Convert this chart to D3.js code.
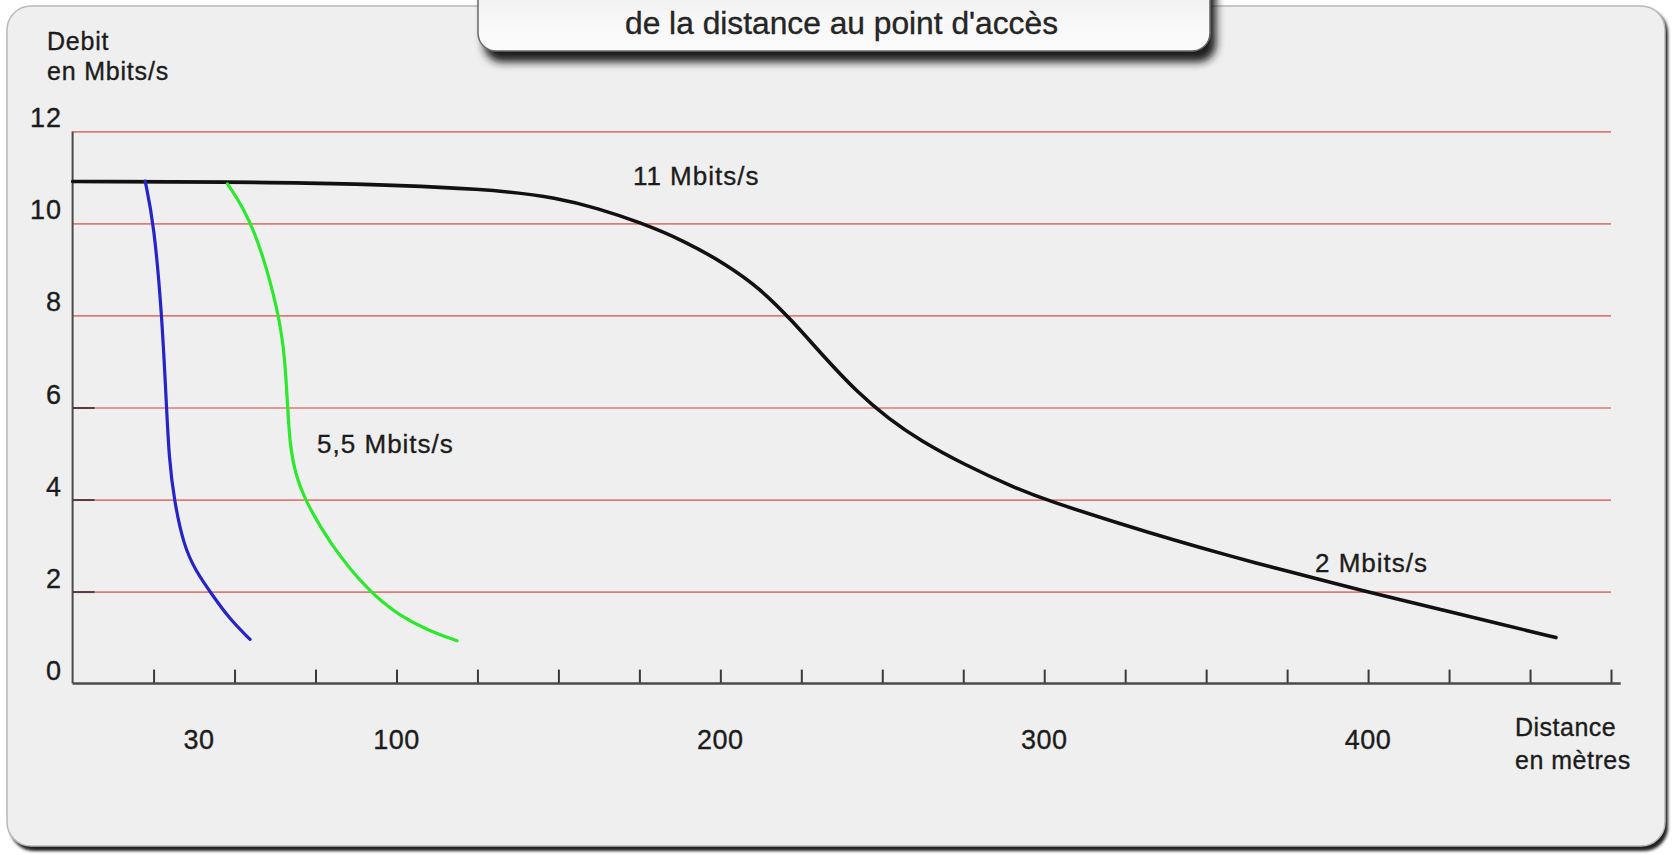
<!DOCTYPE html>
<html lang="fr">
<head>
    <meta charset="UTF-8">
    <title>Debit en fonction de la distance</title>
    <script src="https://d3js.org/d3.v7.min.js"></script>
    <style>
        body {
            margin: 0;
            background: #ffffff;
        }

        svg text {
            font-family: "Liberation Sans", Arial, Helvetica, sans-serif;
            fill: #1c1c1c;
            stroke: #1c1c1c;
            stroke-width: 0.35px;
        }

        .gridlines line {
            stroke: #e07c77;
            stroke-width: 1.7;
        }

        .gridlines .domain {
            stroke: none;
        }
    </style>
</head>
<body>
    <script>
        // data (distance in metres, debit in Mbits/s)
        const yTicks = [0, 2, 4, 6, 8, 10, 12];
        const xTickMarks = d3.range(25, 476, 25);
        const xLabels = ["30", "100", "200", "300", "400"];
        const xLabelAt = [39, 100, 200, 300, 400];

        const black11 = [
            [0, 10.91], [76, 10.9], [130, 10.75], [150, 10.55], [162, 10.33],
            [175, 10.03], [189, 9.62], [202, 9.1], [212, 8.6], [222, 7.9],
            [232, 7.1], [242, 6.35], [252, 5.75], [262, 5.27], [275, 4.77],
            [291, 4.25], [301, 3.98], [324, 3.46], [340, 3.12], [357, 2.78],
            [373, 2.48], [390, 2.17], [406, 1.89], [423, 1.6], [440, 1.31],
            [458, 1.0]
        ];
        const green55 = [
            [47.8, 10.86], [56, 10], [64, 8], [65.6, 7], [66.4, 6], [67.1, 5.2],
            [68.6, 4.6], [71.6, 4], [79.8, 3], [91.4, 2], [101, 1.47], [110, 1.15],
            [118.7, 0.93]
        ];
        const blue = [
            [22.4, 10.92], [25.1, 10], [27.6, 8], [29, 6], [29.8, 4.9], [31.3, 4],
            [34.3, 3], [38, 2.45], [42.9, 1.95], [48.5, 1.4], [54.8, 0.96]
        ];
        const curveLabels = [
            {text: "11 Mbits/s", x: 173, y: 10.83},
            {text: "5,5 Mbits/s", x: 75.5, y: 5.01},
            {text: "2 Mbits/s", x: 383.6, y: 2.43}
        ];

        const svgWidth = 1675;
        const svgHeight = 855;

        const svg = d3.select("body").append("svg")
            .attr("width", svgWidth)
            .attr("height", svgHeight);

        const defs = svg.append("defs");
        defs.append("filter").attr("id", "blur2")
            .attr("x", "-5%").attr("y", "-5%").attr("width", "110%").attr("height", "120%")
            .append("feGaussianBlur").attr("stdDeviation", 1.6);
        defs.append("filter").attr("id", "blur4")
            .attr("x", "-5%").attr("y", "-20%").attr("width", "110%").attr("height", "160%")
            .append("feGaussianBlur").attr("stdDeviation", 4);
        const grad = defs.append("linearGradient").attr("id", "titleFill")
            .attr("x1", 0).attr("y1", 0).attr("x2", 0).attr("y2", 1);
        grad.append("stop").attr("offset", "0%").attr("stop-color", "#e9e9e9");
        grad.append("stop").attr("offset", "60%").attr("stop-color", "#f7f7f7");
        grad.append("stop").attr("offset", "100%").attr("stop-color", "#fbfbfb");

        // panel with dark shadow on the bottom/right
        svg.append("rect")
            .attr("x", 10).attr("y", 9)
            .attr("width", 1658).attr("height", 842)
            .attr("rx", 24)
            .attr("fill", "#222")
            .attr("filter", "url(#blur2)");
        svg.append("rect")
            .attr("x", 7).attr("y", 6)
            .attr("width", 1658).attr("height", 840)
            .attr("rx", 24)
            .attr("fill", "#efefef")
            .attr("stroke", "#b9b9b9")
            .attr("stroke-width", 1.5);

        // title tab at the top
        svg.append("rect")
            .attr("x", 484).attr("y", -30)
            .attr("width", 732).attr("height", 92)
            .attr("rx", 18)
            .attr("fill", "#1e1e1e")
            .attr("filter", "url(#blur4)");
        svg.append("rect")
            .attr("x", 478).attr("y", -30)
            .attr("width", 732).attr("height", 81)
            .attr("rx", 18)
            .attr("fill", "url(#titleFill)")
            .attr("stroke", "#6a6a6a")
            .attr("stroke-width", 1.5);
        svg.append("text")
            .attr("x", 625)
            .attr("y", 34)
            .attr("textLength", 433)
            .attr("lengthAdjust", "spacingAndGlyphs")
            .style("font-size", "31px")
            .style("fill", "#262626")
            .text("de la distance au point d'accès");

        // scales
        const xScale = d3.scaleLinear()
            .domain([0, 475])
            .range([72.6, 1611]);

        const yScale = d3.scaleLinear()
            .domain([0, 12])
            .range([683.6, 131.4]);

        const chart = svg.append("g");

        // red gridlines
        chart.append("g")
            .attr("class", "gridlines")
            .attr("transform", `translate(${xScale(0)},0)`)
            .call(d3.axisRight(yScale)
                .tickValues(yTicks.filter(d => d > 0))
                .tickSize(xScale(475) - xScale(0))
                .tickFormat(""));

        // short dark marks on the y axis
        chart.append("g")
            .attr("transform", `translate(${xScale(0)},0)`)
            .call(d3.axisRight(yScale).tickValues([2, 4, 6]).tickSize(22).tickFormat(""))
            .call(g => g.select(".domain").remove())
            .call(g => g.selectAll("line").attr("stroke", "#5b3b39").attr("stroke-width", 2));

        // y axis line and labels
        chart.append("line")
            .attr("x1", xScale(0)).attr("x2", xScale(0))
            .attr("y1", yScale(12)).attr("y2", yScale(0))
            .attr("stroke", "#4a4a4a")
            .attr("stroke-width", 2);

        chart.selectAll(".ylabel")
            .data(yTicks)
            .enter()
            .append("text")
            .attr("class", "ylabel")
            .attr("x", 62)
            .attr("y", d => yScale(d) - 4)
            .attr("text-anchor", "end")
            .style("font-size", "27px")
            .style("letter-spacing", "1px")
            .text(d => d);

        chart.append("text").attr("x", 47).attr("y", 50)
            .style("font-size", "25px").style("letter-spacing", "0.8px").text("Debit");
        chart.append("text").attr("x", 47).attr("y", 80)
            .style("font-size", "25px").style("letter-spacing", "0.8px").text("en Mbits/s");

        // x axis, ticks pointing up
        chart.append("g")
            .attr("transform", `translate(0,${yScale(0)})`)
            .call(d3.axisTop(xScale).tickValues(xTickMarks).tickSize(14).tickFormat(""))
            .call(g => g.select(".domain").remove())
            .call(g => g.selectAll("line").attr("stroke", "#3a3a3a").attr("stroke-width", 2));

        chart.append("line")
            .attr("x1", xScale(0)).attr("x2", xScale(478))
            .attr("y1", yScale(0)).attr("y2", yScale(0))
            .attr("stroke", "#4a4a4a")
            .attr("stroke-width", 2.5);

        chart.selectAll(".xlabel")
            .data(xLabels)
            .enter()
            .append("text")
            .attr("class", "xlabel")
            .attr("x", (d, i) => xScale(xLabelAt[i]))
            .attr("y", 749)
            .attr("text-anchor", "middle")
            .style("font-size", "27px")
            .style("letter-spacing", "0.5px")
            .text(d => d);

        chart.append("text").attr("x", 1515).attr("y", 736)
            .style("font-size", "25px").style("letter-spacing", "0.5px").text("Distance");
        chart.append("text").attr("x", 1515).attr("y", 769)
            .style("font-size", "25px").style("letter-spacing", "0.5px").text("en mètres");

        // curves
        const line = d3.line()
            .x(d => xScale(d[0]))
            .y(d => yScale(d[1]))
            .curve(d3.curveBasis);

        chart.append("path").datum(black11)
            .attr("d", line)
            .attr("fill", "none")
            .attr("stroke", "#111")
            .attr("stroke-width", 3.6)
            .attr("stroke-linecap", "round");

        chart.append("path").datum(green55)
            .attr("d", line)
            .attr("fill", "none")
            .attr("stroke", "#2ee82e")
            .attr("stroke-width", 3.2)
            .attr("stroke-linecap", "round");

        chart.append("path").datum(blue)
            .attr("d", line)
            .attr("fill", "none")
            .attr("stroke", "#2424c8")
            .attr("stroke-width", 3.2)
            .attr("stroke-linecap", "round");

        chart.selectAll(".curvelabel")
            .data(curveLabels)
            .enter()
            .append("text")
            .attr("class", "curvelabel")
            .attr("x", d => xScale(d.x))
            .attr("y", d => yScale(d.y))
            .style("font-size", "26px")
            .style("letter-spacing", "1px")
            .text(d => d.text);
    </script>
</body>
</html>
